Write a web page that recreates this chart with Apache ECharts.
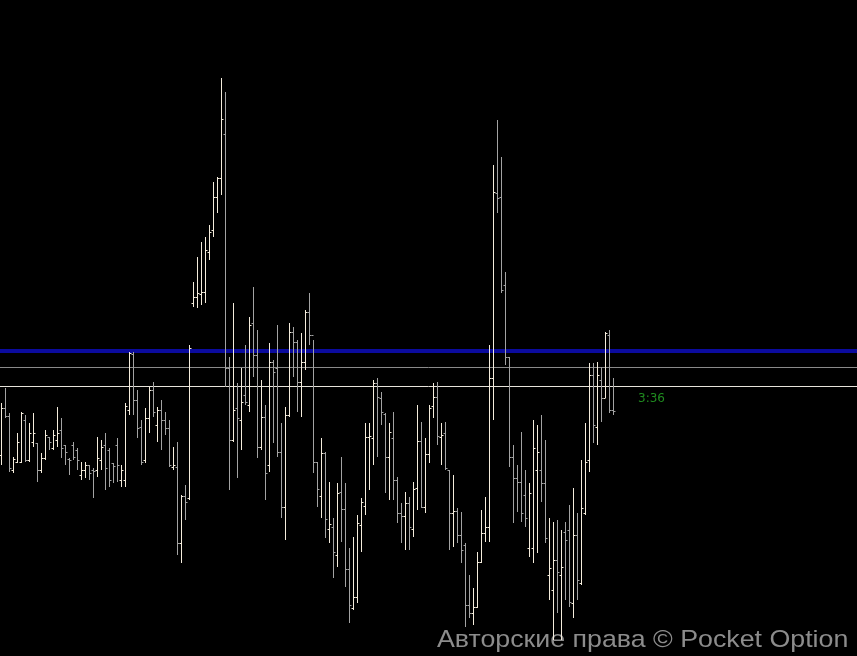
<!DOCTYPE html>
<html>
<head>
<meta charset="utf-8">
<script src="https://cdn.jsdelivr.net/npm/echarts@6/dist/echarts.min.js"></script>
<style>
html,body{margin:0;padding:0;background:#000;}
#chart{width:857px;height:656px;}
</style>
</head>
<body>
<div id="chart"></div>
<script>
// OHLC values in chart points
var highs = [597,612,587,543,567,588,585,577,587,557,547,570,563,570,593,582,555,542,558,552,538,538,535,532,563,560,567,552,537,562,535,597,648,648,610,580,592,613,618,593,600,588,580,553,558,505,515,655,718,743,758,763,775,818,823,922,908,643,697,617,632,655,683,713,670,620,595,657,640,675,577,593,677,673,660,667,690,707,660,538,562,548,518,482,517,543,517,452,463,485,502,577,577,620,622,608,587,577,588,523,497,508,503,518,595,578,562,595,617,618,577,578,530,525,492,488,457,425,412,448,490,503,655,835,880,843,728,643,555,535,568,530,517,580,575,585,560,482,478,480,470,478,495,512,487,540,577,637,637,638,633,668,670,622];
var lows = [535,582,528,527,537,537,538,538,553,518,527,540,550,550,553,542,535,525,540,530,520,522,520,502,523,530,510,513,517,518,513,513,585,585,562,535,537,567,583,558,550,565,533,530,445,437,480,500,693,692,695,697,740,763,787,805,613,510,558,522,550,595,588,623,542,550,500,528,557,543,482,460,583,623,588,583,630,655,527,493,482,462,457,422,433,458,413,377,390,397,448,485,510,535,543,575,507,500,500,477,457,450,450,463,490,492,487,537,582,555,535,530,450,453,457,437,373,382,375,392,437,458,458,580,787,707,635,533,477,488,478,473,443,437,447,498,457,400,360,387,360,400,393,382,400,415,485,528,557,555,578,602,587,585];
var opens = [545,592,584,530,538,538,580,540,558,557,530,542,563,552,560,570,555,541,555,550,525,530,535,530,530,540,555,550,537,555,520,520,590,646,600,573,540,582,610,575,590,580,572,533,533,457,504,502,697,703,706,708,748,770,803,822,866,632,560,592,580,605,595,677,645,553,583,535,638,632,548,493,585,668,658,618,638,688,665,538,504,547,471,473,445,508,491,431,392,403,475,494,563,562,617,602,586,543,562,520,487,484,497,471,512,559,493,546,594,603,563,567,530,487,489,465,455,395,387,393,438,467,473,622,807,803,715,643,543,522,518,505,452,452,530,530,517,425,410,440,425,468,470,397,465,417,487,540,625,573,620,602,665,590];
var closes = [592,584,532,541,558,587,540,567,567,530,542,565,558,565,567,552,548,540,543,540,530,535,527,529,542,553,532,520,534,535,530,594,647,600,572,538,582,610,588,590,580,572,535,535,457,504,498,652,703,707,708,750,768,803,822,881,632,560,590,582,598,598,675,645,553,583,527,638,628,548,493,585,668,658,618,638,688,665,538,511,547,481,476,448,507,491,431,395,403,477,498,563,564,617,603,588,543,568,520,487,484,497,473,511,559,493,546,592,603,564,565,532,487,489,465,450,395,387,393,438,467,473,622,808,802,710,643,543,522,518,487,482,507,552,548,517,462,432,440,428,433,460,398,465,420,492,538,625,575,625,602,667,590,589];

// Horizontal price levels
var blueLevel = 649;
var grayLevel = 632.5;
var whiteLevel = 613.5;

var timerText = '3:36';
var watermarkText = 'Авторские права © Pocket Option';

var ohlc = [];
for (var i = 0; i < highs.length; i++) {
  ohlc.push([i, opens[i], closes[i], lows[i], highs[i]]);
}

var chart = echarts.init(document.getElementById('chart'), null, {renderer: 'canvas'});

function renderBar(params, api) {
  var idx = api.value(0);
  var o = api.coord([idx, api.value(1)]);
  var c = api.coord([idx, api.value(2)]);
  var l = api.coord([idx, api.value(3)]);
  var h = api.coord([idx, api.value(4)]);
  var up = api.value(2) >= api.value(1);
  var color = up ? '#f4ecdc' : '#a3a3a3';
  var px = Math.round(h[0]) + 0.5;
  var oy = Math.round(o[1]) + 0.5;
  var cy = Math.round(c[1]) + 0.5;
  var st = {stroke: color, lineWidth: 1};
  return {
    type: 'group',
    children: [
      {type: 'line', shape: {x1: px, y1: Math.round(h[1]), x2: px, y2: Math.round(l[1])}, style: st},
      {type: 'line', shape: {x1: px - 2, y1: oy, x2: px, y2: oy}, style: st},
      {type: 'line', shape: {x1: px, y1: cy, x2: px + 2, y2: cy}, style: st}
    ]
  };
}

var option = {
  backgroundColor: '#000000',
  animation: false,
  grid: {left: 0, right: 0, top: 0, bottom: 0},
  xAxis: {type: 'value', min: -0.25, max: 214, show: false},
  yAxis: {type: 'value', min: 344, max: 1000, show: false},
  series: [
    {
      type: 'line',
      data: [],
      z: 1,
      silent: true,
      markLine: {
        silent: true,
        symbol: ['none', 'none'],
        label: {show: false},
        animation: false,
        data: [
          {yAxis: whiteLevel, lineStyle: {color: '#e6e2da', width: 1, type: 'solid'}},
          {yAxis: grayLevel, lineStyle: {color: '#8a8a8a', width: 1, type: 'solid'}},
          {yAxis: blueLevel, lineStyle: {color: '#0b0b9e', width: 4, type: 'solid'}}
        ]
      }
    },
    {
      type: 'custom',
      z: 5,
      renderItem: renderBar,
      data: ohlc,
      encode: {x: 0, y: [1, 2, 3, 4]},
      silent: true
    }
  ],
  graphic: [
    {
      type: 'text',
      x: 638,
      y: 399,
      style: {text: timerText, fill: '#1f8a1f', font: '12px "DejaVu Sans", sans-serif', textVerticalAlign: 'middle'}
    },
    {
      type: 'text',
      x: 437,
      y: 640,
      scaleX: 1.115,
      style: {text: watermarkText, fill: '#8c8c8c', font: '24px "Liberation Sans", Arial, sans-serif', textVerticalAlign: 'middle'}
    }
  ]
};
chart.setOption(option);
</script>
</body>
</html>
